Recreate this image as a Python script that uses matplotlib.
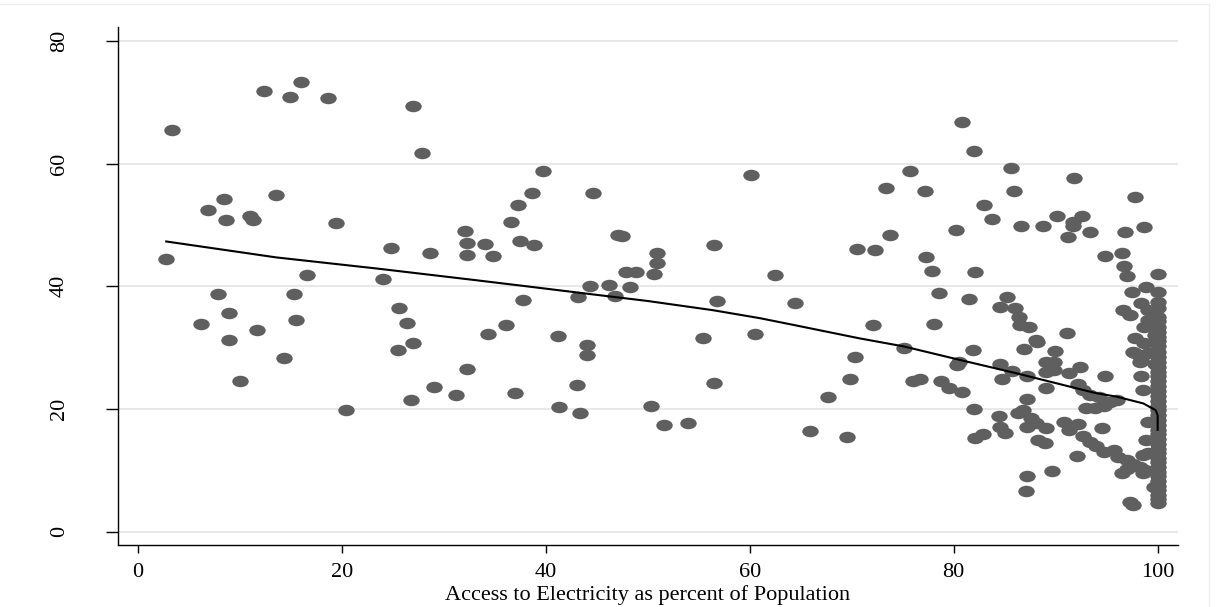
import numpy as np
import matplotlib
matplotlib.use("Agg")
import matplotlib.pyplot as plt
from matplotlib.path import Path
from matplotlib.transforms import Affine2D
from matplotlib.patches import Rectangle

plt.rcParams['font.family'] = ['Liberation Serif', 'DejaVu Serif']

# scatter points: access to electricity (% of population) vs. outcome
access = [
    2.8, 3.4, 6.2, 6.9, 7.9, 8.5, 8.7, 9.0, 9.0, 10.0, 11.0, 11.3, 11.7, 12.35, 13.6,
    14.3, 14.9, 15.3, 15.5, 16.05, 16.6, 18.7, 19.4, 20.4, 24.05, 24.8, 25.5, 25.6,
    26.4, 26.8, 27.0, 27.0, 27.9, 28.7, 29.1, 31.2, 32.1, 32.3, 32.3, 32.3, 34.1,
    34.3, 34.8, 36.1, 36.6, 37.0, 37.3, 37.5, 37.8, 38.7, 38.9, 39.7, 41.2, 41.3,
    43.1, 43.2, 43.4, 44.1, 44.1, 44.3, 44.6, 46.2, 46.8, 47.1, 47.5, 47.9, 48.3,
    48.9, 50.3, 50.6, 50.9, 50.9, 51.6, 54.0, 55.4, 56.5, 56.5, 56.8, 60.1, 60.5,
    62.5, 64.4, 65.9, 67.7, 69.5, 69.8, 70.3, 70.5, 72.1, 72.3, 73.4, 73.8, 75.1,
    75.7, 76.0, 76.7, 77.2, 77.3, 77.9, 78.1, 78.6, 78.8, 79.5, 80.2, 80.3, 80.5,
    80.8, 80.8, 81.5, 81.9, 82.0, 82.0, 82.1, 82.1, 82.9, 83.0, 83.8, 84.4, 84.5,
    84.5, 84.5, 84.7, 85.0, 85.2, 85.6, 85.7, 85.9, 86.0, 86.3, 86.4, 86.5, 86.6,
    86.8, 86.9, 87.1, 87.2, 87.2, 87.2, 87.2, 87.4, 87.6, 88.1, 88.1, 88.2, 88.3,
    88.8, 89.0, 89.1, 89.1, 89.1, 89.1, 89.6, 89.8, 89.8, 89.9, 90.1, 90.8, 91.1,
    91.2, 91.3, 91.3, 91.7, 91.7, 91.8, 92.1, 92.2, 92.2, 92.4, 92.6, 92.7, 92.7,
    93.0, 93.4, 93.4, 93.4, 93.9, 94.0, 94.2, 94.5, 94.7, 94.7, 94.8, 94.8, 95.3,
    95.7, 96.0, 96.1, 96.5, 96.5, 96.6, 96.7, 96.8, 97.0, 97.0, 97.0, 97.3, 97.3,
    97.5, 97.6, 97.6, 97.6, 97.8, 97.8, 97.8, 98.3, 98.3, 98.4, 98.4, 98.4, 98.6,
    98.6, 98.6, 98.7, 98.7, 98.7, 98.8, 98.9, 98.9, 99.1, 99.1, 99.1, 99.1, 99.1,
    99.6, 99.7, 99.7,
    100, 100, 100, 100, 100, 100, 100, 100, 100, 100, 100, 100, 100, 100, 100,
    100, 100, 100, 100, 100, 100, 100, 100, 100, 100, 100, 100, 100, 100, 100,
    100, 100, 100, 100, 100, 100, 100, 100, 100, 100, 100, 100, 100, 100,
]
outcome = [
    44.5, 65.4, 33.9, 52.5, 38.8, 54.2, 50.8, 35.7, 31.2, 24.6, 51.4, 50.8, 32.9, 71.8, 54.8,
    28.3, 70.8, 38.8, 34.5, 73.3, 41.8, 70.7, 50.3, 19.8, 41.2, 46.2, 29.6, 36.4,
    34.0, 21.5, 69.4, 30.7, 61.7, 45.5, 23.6, 22.2, 49.0, 47.1, 45.1, 26.5, 46.9,
    32.2, 44.9, 33.7, 50.4, 22.6, 53.3, 47.3, 37.8, 55.2, 46.8, 58.8, 31.9, 20.4,
    23.9, 38.3, 19.3, 30.5, 28.8, 40.0, 55.2, 40.2, 38.4, 48.4, 48.2, 42.3, 39.9,
    42.3, 20.5, 42.0, 45.4, 43.8, 17.4, 17.7, 31.6, 46.7, 24.3, 37.6, 58.1, 32.2,
    41.8, 37.3, 16.4, 22.0, 15.4, 24.9, 28.5, 46.0, 33.7, 45.9, 56.0, 48.4, 30.0,
    58.8, 24.5, 24.9, 55.6, 44.7, 42.5, 33.9, 38.9, 24.6, 23.4, 49.2, 27.2, 27.7,
    66.7, 22.8, 37.9, 29.6, 62.1, 20.0, 42.4, 15.3, 15.9, 53.2, 51.0, 18.8, 36.7,
    27.4, 17.1, 24.9, 16.1, 38.3, 59.3, 26.2, 55.5, 36.5, 19.3, 35.0, 33.7, 49.9,
    19.8, 29.8, 6.7, 25.3, 21.6, 17.1, 9.0, 33.4, 18.5, 31.2, 17.7, 30.9, 14.9,
    49.8, 14.4, 27.7, 26.1, 23.5, 16.9, 9.9, 27.7, 26.4, 29.5, 51.5, 17.9, 32.4,
    48.1, 25.8, 16.6, 50.5, 49.8, 57.7, 12.4, 24.1, 17.6, 26.8, 51.4, 23.1, 15.6,
    20.1, 48.8, 22.3, 14.7, 20.1, 13.9, 22.0, 16.9, 20.5, 13.0, 45.0, 25.4, 21.2,
    13.3, 21.5, 12.2, 45.4, 9.5, 36.1, 43.3, 48.9, 41.7, 11.7, 10.3, 35.3, 4.9,
    39.1, 29.3, 11.1, 4.4, 54.6, 31.5, 29.1, 27.7, 10.6, 37.2, 28.0, 25.3, 23.1,
    12.5, 9.5, 49.7, 33.4, 30.7, 10.1, 39.9, 14.9, 36.1, 34.5, 29.1, 17.9, 12.8,
    7.3, 32.1, 27.4,
    4.6, 5.3, 6.0, 6.8, 7.5, 8.2, 9.0, 9.8, 10.5, 11.3, 12.0, 12.8, 13.5, 14.3, 15.1,
    15.9, 16.6, 17.4, 18.2, 19.0, 19.8, 20.5, 21.3, 22.1, 22.9, 23.7, 24.5, 25.3, 26.1, 26.9,
    27.7, 28.5, 29.3, 30.2, 31.0, 31.8, 32.6, 33.4, 34.3, 35.0, 36.4, 37.5, 39.0, 42.0,
]

# lowess fitted curve
fit_x = [2.8, 13.6, 23.4, 32.6, 38.1, 44.0, 50.0, 56.4, 61.0, 64.3, 70.8, 75.1,
         80.6, 86.2, 93.9, 96.0, 98.6, 99.8, 100.0, 100.0]
fit_y = [47.3, 44.7, 42.9, 41.1, 40.0, 38.8, 37.6, 36.1, 34.8, 33.7, 31.5, 30.2,
         28.0, 25.8, 22.6, 22.0, 20.9, 19.8, 19.0, 16.6]

y_ticks = [0, 20, 40, 60, 80]
x_ticks = [0, 20, 40, 60, 80, 100]

# slightly flattened dot marker
circle = Path.unit_circle()
ellipse = Affine2D().scale(1.0, 0.7).transform_path(circle)

fig = plt.figure(figsize=(12.25, 6.07), dpi=100, facecolor='white')
fig.patches.append(Rectangle((-0.01, -0.01), 1209 / 1225 + 0.01, 1 - 4 / 607 + 0.01,
                             transform=fig.transFigure, fill=False,
                             edgecolor='#eeeeee', linewidth=1.0))
ax = fig.add_axes([0.0963, 0.1021, 0.8653, 0.8529])

for yt in y_ticks:
    ax.axhline(yt, color='#e6e6e6', linewidth=1.3, zorder=0)

ax.scatter(access, outcome, s=140, marker=ellipse, color='#5f5f5f',
           linewidths=0, zorder=2)
ax.plot(fit_x, fit_y, color='black', linewidth=1.5, zorder=3)

ax.set_xlim(-1.93, 101.99)
ax.set_ylim(-2.17, 82.2)
ax.set_xticks(x_ticks)
ax.set_yticks(y_ticks)
ax.set_yticklabels([str(v) for v in y_ticks], rotation=90, va='center')

ax.spines['top'].set_visible(False)
ax.spines['right'].set_visible(False)
for sp in ('left', 'bottom'):
    ax.spines[sp].set_linewidth(1.0)

ax.tick_params(axis='x', length=6, width=1.0, pad=7, labelsize=16)
ax.tick_params(axis='y', length=8.5, width=1.0, pad=27, labelsize=16)
ax.set_xlabel('Access to Electricity as percent of Population', fontsize=16,
              labelpad=2)

fig.savefig('out.png', dpi=100, facecolor='white')
